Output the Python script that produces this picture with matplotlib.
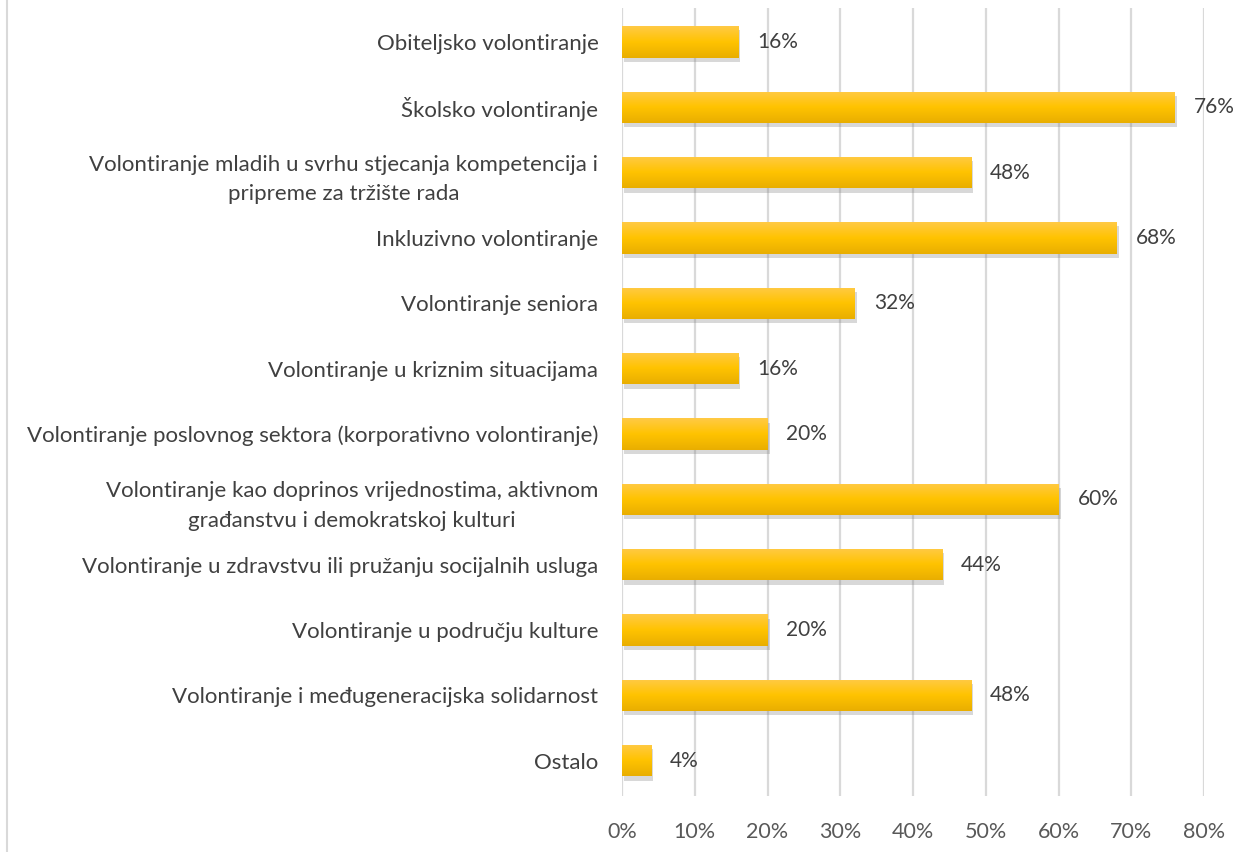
import matplotlib.pyplot as plt
import matplotlib.patheffects as pe
from matplotlib.lines import Line2D
from matplotlib.ticker import FuncFormatter
from matplotlib.colors import LinearSegmentedColormap
import numpy as np

categories = [
    "Obiteljsko volontiranje",
    "Školsko volontiranje",
    "Volontiranje mladih u svrhu stjecanja kompetencija i\npripreme za tržište rada",
    "Inkluzivno volontiranje",
    "Volontiranje seniora",
    "Volontiranje u kriznim situacijama",
    "Volontiranje poslovnog sektora (korporativno volontiranje)",
    "Volontiranje kao doprinos vrijednostima, aktivnom\ngrađanstvu i demokratskoj kulturi",
    "Volontiranje u zdravstvu ili pružanju socijalnih usluga",
    "Volontiranje u području kulture",
    "Volontiranje i međugeneracijska solidarnost",
    "Ostalo",
]
values = [0.16, 0.76, 0.48, 0.68, 0.32, 0.16, 0.20, 0.60, 0.44, 0.20, 0.48, 0.04]
x_ticks = [0, 0.1, 0.2, 0.3, 0.4, 0.5, 0.6, 0.7, 0.8]

plt.rcParams['font.family'] = ['Lato', 'DejaVu Sans']

fig = plt.figure(figsize=(12.5, 8.52), dpi=100)
ax = fig.add_axes([0.4976, 0.0657, 0.4656, 0.9249])

y = np.arange(len(categories))
bars = ax.barh(y, values, height=0.48, color='#FFC000', zorder=3)

# vertical gradient (light on top, darker at bottom) + soft shadow
grad = np.linspace(0, 1, 100).reshape(-1, 1)
cmap = LinearSegmentedColormap.from_list('gold', ['#E9AE00', '#FFC300', '#FFCA45'])
for b in bars:
    b.set_path_effects([pe.SimplePatchShadow(offset=(1.5, -3), shadow_rgbFace='#7F7F7F', alpha=0.3), pe.Normal()])
    x0, y0 = b.get_x(), b.get_y()
    w, h = b.get_width(), b.get_height()
    im = ax.imshow(grad, cmap=cmap, aspect='auto', extent=[x0, x0 + w, y0 + h, y0],
                   origin='lower', zorder=4, interpolation='bilinear')
    im.set_clip_path(b)

for yi, v in zip(y, values):
    ax.text(v + 0.026, yi, f"{round(v * 100)}%", va='center', ha='left',
            fontsize=15, color='#404040', zorder=5)

ax.set_xlim(0, 0.8)
ax.set_ylim(len(categories) - 0.46, -0.52)
ax.set_yticks(y)
ax.set_yticklabels(categories, fontsize=16, color='#404040', multialignment='center', linespacing=1.6)
ax.tick_params(axis='y', length=0, pad=17)
ax.set_xticks(x_ticks)
ax.xaxis.set_major_formatter(FuncFormatter(lambda v, p: f"{round(v * 100)}%"))
ax.tick_params(axis='x', length=0, pad=19, labelsize=15.5, labelcolor='#595959')
ax.grid(axis='x', color='#D9D9D9', linewidth=1.6, zorder=0)
for s in ax.spines.values():
    s.set_visible(False)

fig.add_artist(Line2D([0.0056, 0.0056], [0, 1], color='#D9D9D9', linewidth=1.5, transform=fig.transFigure))

fig.savefig('out.png', dpi=100)
